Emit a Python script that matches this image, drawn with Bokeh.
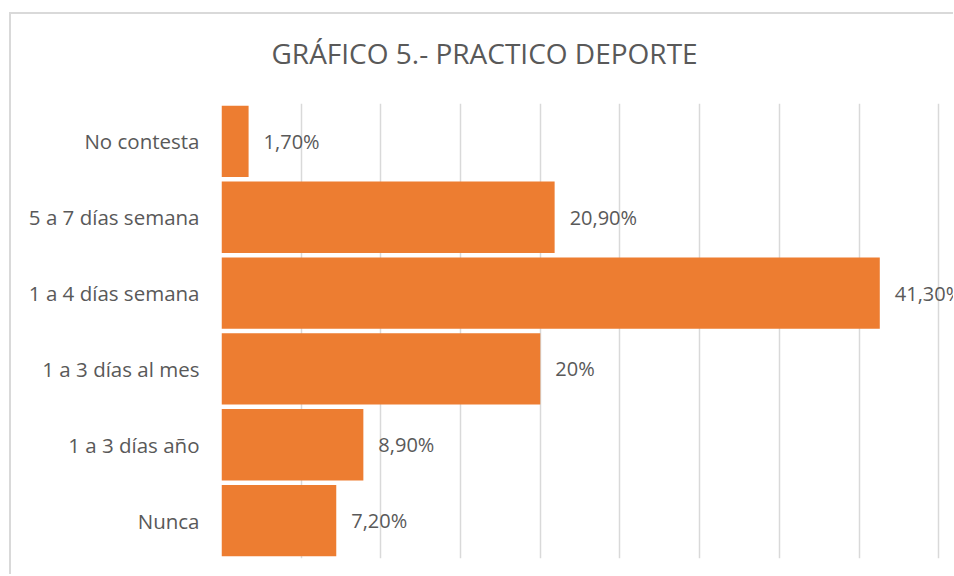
from bokeh.plotting import figure
from bokeh.models import ColumnDataSource, FixedTicker, Title, Range1d
from bokeh.core.properties import value
from bokeh.embed import file_html
from bokeh.resources import INLINE

categories = ["Nunca", "1 a 3 días año", "1 a 3 días al mes",
              "1 a 4 días semana", "5 a 7 días semana", "No contesta"]
values = [7.2, 8.9, 20.0, 41.3, 20.9, 1.7]
labels = ["7,20%", "8,90%", "20%", "41,30%", "20,90%", "1,70%"]
grid_ticks = [0, 5, 10, 15, 20, 25, 30, 35, 40, 45]
title_text = "GRÁFICO 5.- PRACTICO DEPORTE"

FONT = "Open Sans"
GRAY = "#595959"
ORANGE = "#ED7D31"

src = ColumnDataSource(data=dict(cat=categories, val=values, lab=labels))

p = figure(width=944, height=562, y_range=categories,
           x_range=Range1d(0, 46.05),
           output_backend="svg", toolbar_location=None,
           min_border_left=210, min_border_right=0,
           min_border_top=89, min_border_bottom=18)
p.margin = (12, 0, 0, 9)
p.title = None

# spacer between the frame and the title, then the title itself
p.add_layout(Title(text=" ", text_font_size="1px", standoff=14), "above")
p.add_layout(Title(text=title_text, align="left",
                   text_font=FONT, text_font_size="28px",
                   text_font_style="normal", text_color=GRAY,
                   offset=50, standoff=30), "above")

p.hbar(y="cat", right="val", left=0, height=0.94, source=src,
       fill_color=ORANGE, line_color=None)
p.text(x="val", y="cat", text="lab", source=src, x_offset=15,
       text_align="left", text_baseline="middle",
       text_font=value(FONT), text_font_size="20px", text_color=GRAY)

p.y_range.range_padding = 0
p.outline_line_color = None
p.background_fill_color = "white"
p.border_fill_color = "white"

p.xaxis.visible = False
p.xgrid.ticker = FixedTicker(ticks=grid_ticks)
p.xgrid.grid_line_color = "#d9d9d9"
p.xgrid.grid_line_width = 1.5
p.ygrid.grid_line_color = None

ax = p.yaxis[0]
ax.axis_line_color = None
ax.major_tick_line_color = None
ax.minor_tick_line_color = None
ax.major_tick_out = 0
ax.major_label_standoff = 22
ax.major_label_text_font = FONT
ax.major_label_text_font_size = "20.5px"
ax.major_label_text_color = GRAY

p.styles = {"border-left": "2px solid #d9d9d9", "border-top": "2px solid #d9d9d9"}

open("out.html", "w").write(file_html(p, INLINE))
